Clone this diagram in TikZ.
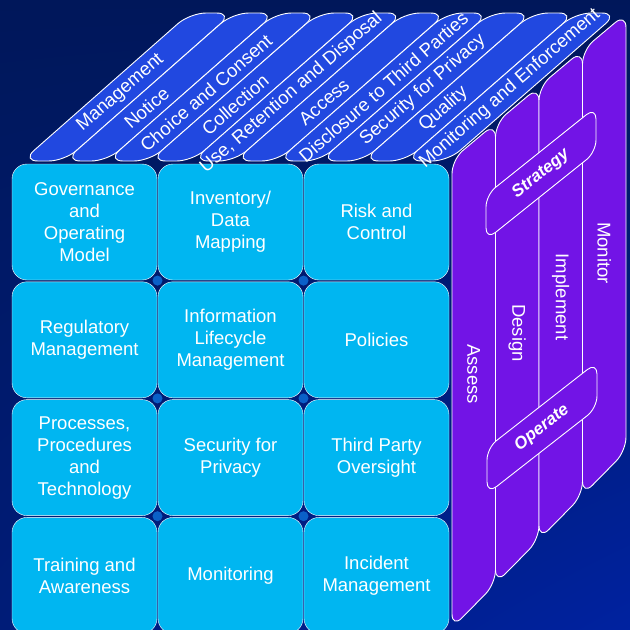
\documentclass[tikz,border=0pt]{standalone}
\usepackage{fontspec}
\setmainfont{Liberation Sans}
\usepackage{tikz}
\usetikzlibrary{shadings}
\usetikzlibrary{positioning}
\definecolor{bgdark}{HTML}{00175A}
\definecolor{bgmid}{HTML}{001C78}
\definecolor{bglight}{HTML}{0022A0}
\definecolor{pblue}{HTML}{2148E0}
\definecolor{ccyan}{HTML}{00B6F1}
\definecolor{spurple}{HTML}{7214E6}
\definecolor{dblue}{HTML}{0A60C8}
\tikzset{dot/.style = {fill=dblue, circle, inner sep = 0, minimum size = 10}}
\tikzset{cell/.style = {draw=white, fill=ccyan, rounded corners=15, minimum width=145, minimum height=116,
    inner sep=0, align=center, text=white, font=\fontsize{18.5}{22}\selectfont}}
\tikzset{pill/.style = {draw=white, line width=0.9, fill=pblue, rounded corners=16}}
\tikzset{side/.style = {draw=white, line width=0.9, fill=spurple, rounded corners=14}}
\tikzset{band/.style = {draw=white, line width=0.9, fill=spurple, rounded corners=12}}
\tikzset{ptext/.style = {text=white, inner sep=0, font=\fontsize{18.5}{20}\selectfont}}
\tikzset{btext/.style = {text=white, inner sep=0, font=\fontsize{17}{20}\selectfont\bfseries\itshape}}

\begin{document}
\begin{tikzpicture}[x=1pt, y=-1pt]
      \useasboundingbox (0,0) rectangle (630,630);
      \clip (0,0) rectangle (630,630);
      \shade [upper left=bgdark, upper right=bgdark, lower left=bgmid, lower right=bglight] (0,0) rectangle (630,630);
      \foreach \a in {1,2} {
        \foreach \b in {1,2,3} {
          \node [dot] (dot-\a-\b) at ({12+146*\a-0.5}, {164+117.8*\b-1.2}) {};
        }
      }
      \foreach \nm/\c/\r/\txt in {gov/0/0/{Governance\\and\\Operating\\Model}, inv/1/0/{Inventory/\\Data\\Mapping},
          risk/2/0/{Risk and\\Control}, reg/0/1/{Regulatory\\Management}, ilm/1/1/{Information\\Lifecycle\\Management},
          pol/2/1/{Policies}, ppt/0/2/{Processes,\\Procedures\\and\\Technology}, sec/1/2/{Security for\\Privacy},
          tpo/2/2/{Third Party\\Oversight}, trn/0/3/{Training and\\Awareness}, mon/1/3/{Monitoring},
          inc/2/3/{Incident\\Management}} {
        \node [cell] (\nm) at ({84.5+146*\c}, {222+117.8*\r}) {\txt};
      }
      \foreach \j/\lbl/\ly in {0/Assess/374, 1/Design/333, 2/Implement/297, 3/Monitor/253} {
        \pgfmathsetmacro\xl{452+43.5*\j}
        \pgfmathsetmacro\xr{\xl+43.5}
        \draw [side] (\xl, {163-0.84*(\xl-448)}) -- (\xr, {163-0.84*(\xr-448)})
          -- (\xr, {627-1.017*(\xr-453)}) -- (\xl, {627-1.017*(\xl-453)}) -- cycle;
        \node [ptext, rotate=-90] (col-\j) at ({\xl+21.75}, \ly) {\lbl};
      }
      \draw [band] (486,195) -- (596,107) -- (596,152) -- (486,240) -- cycle;
      \node [btext, rotate=39] (strategy) at (541,174) {Strategy};
      \draw [band] (487,448) -- (597,362) -- (597,408) -- (487,494) -- cycle;
      \node [btext, rotate=38] (operate) at (542,428) {Operate};
      \foreach \i/\lbl/\t in {0/Management/0.46, 1/Notice/0.36, 2/Choice and Consent/0.46, 3/Collection/0.38,
          4/{Use, Retention and Disposal}/0.46, 5/Access/0.40, 6/Disclosure to Third Parties/0.50,
          7/Security for Privacy/0.48, 8/Quality/0.35, 9/Monitoring and Enforcement/0.49} {
        \pgfmathsetmacro\bx{22+42.6*\i}
        \pgfmathsetmacro\tx{190+42.8*\i}
        \draw [pill] (\bx,161) -- (\bx+42.6,161) -- (\tx+42.6,13) -- (\tx,13) -- cycle;
        \node [ptext, rotate=41] (p-\i) at ({\bx+21.3+(\tx-\bx)*\t}, {161-148*\t}) {\lbl};
      }
    \end{tikzpicture}
\end{document}
